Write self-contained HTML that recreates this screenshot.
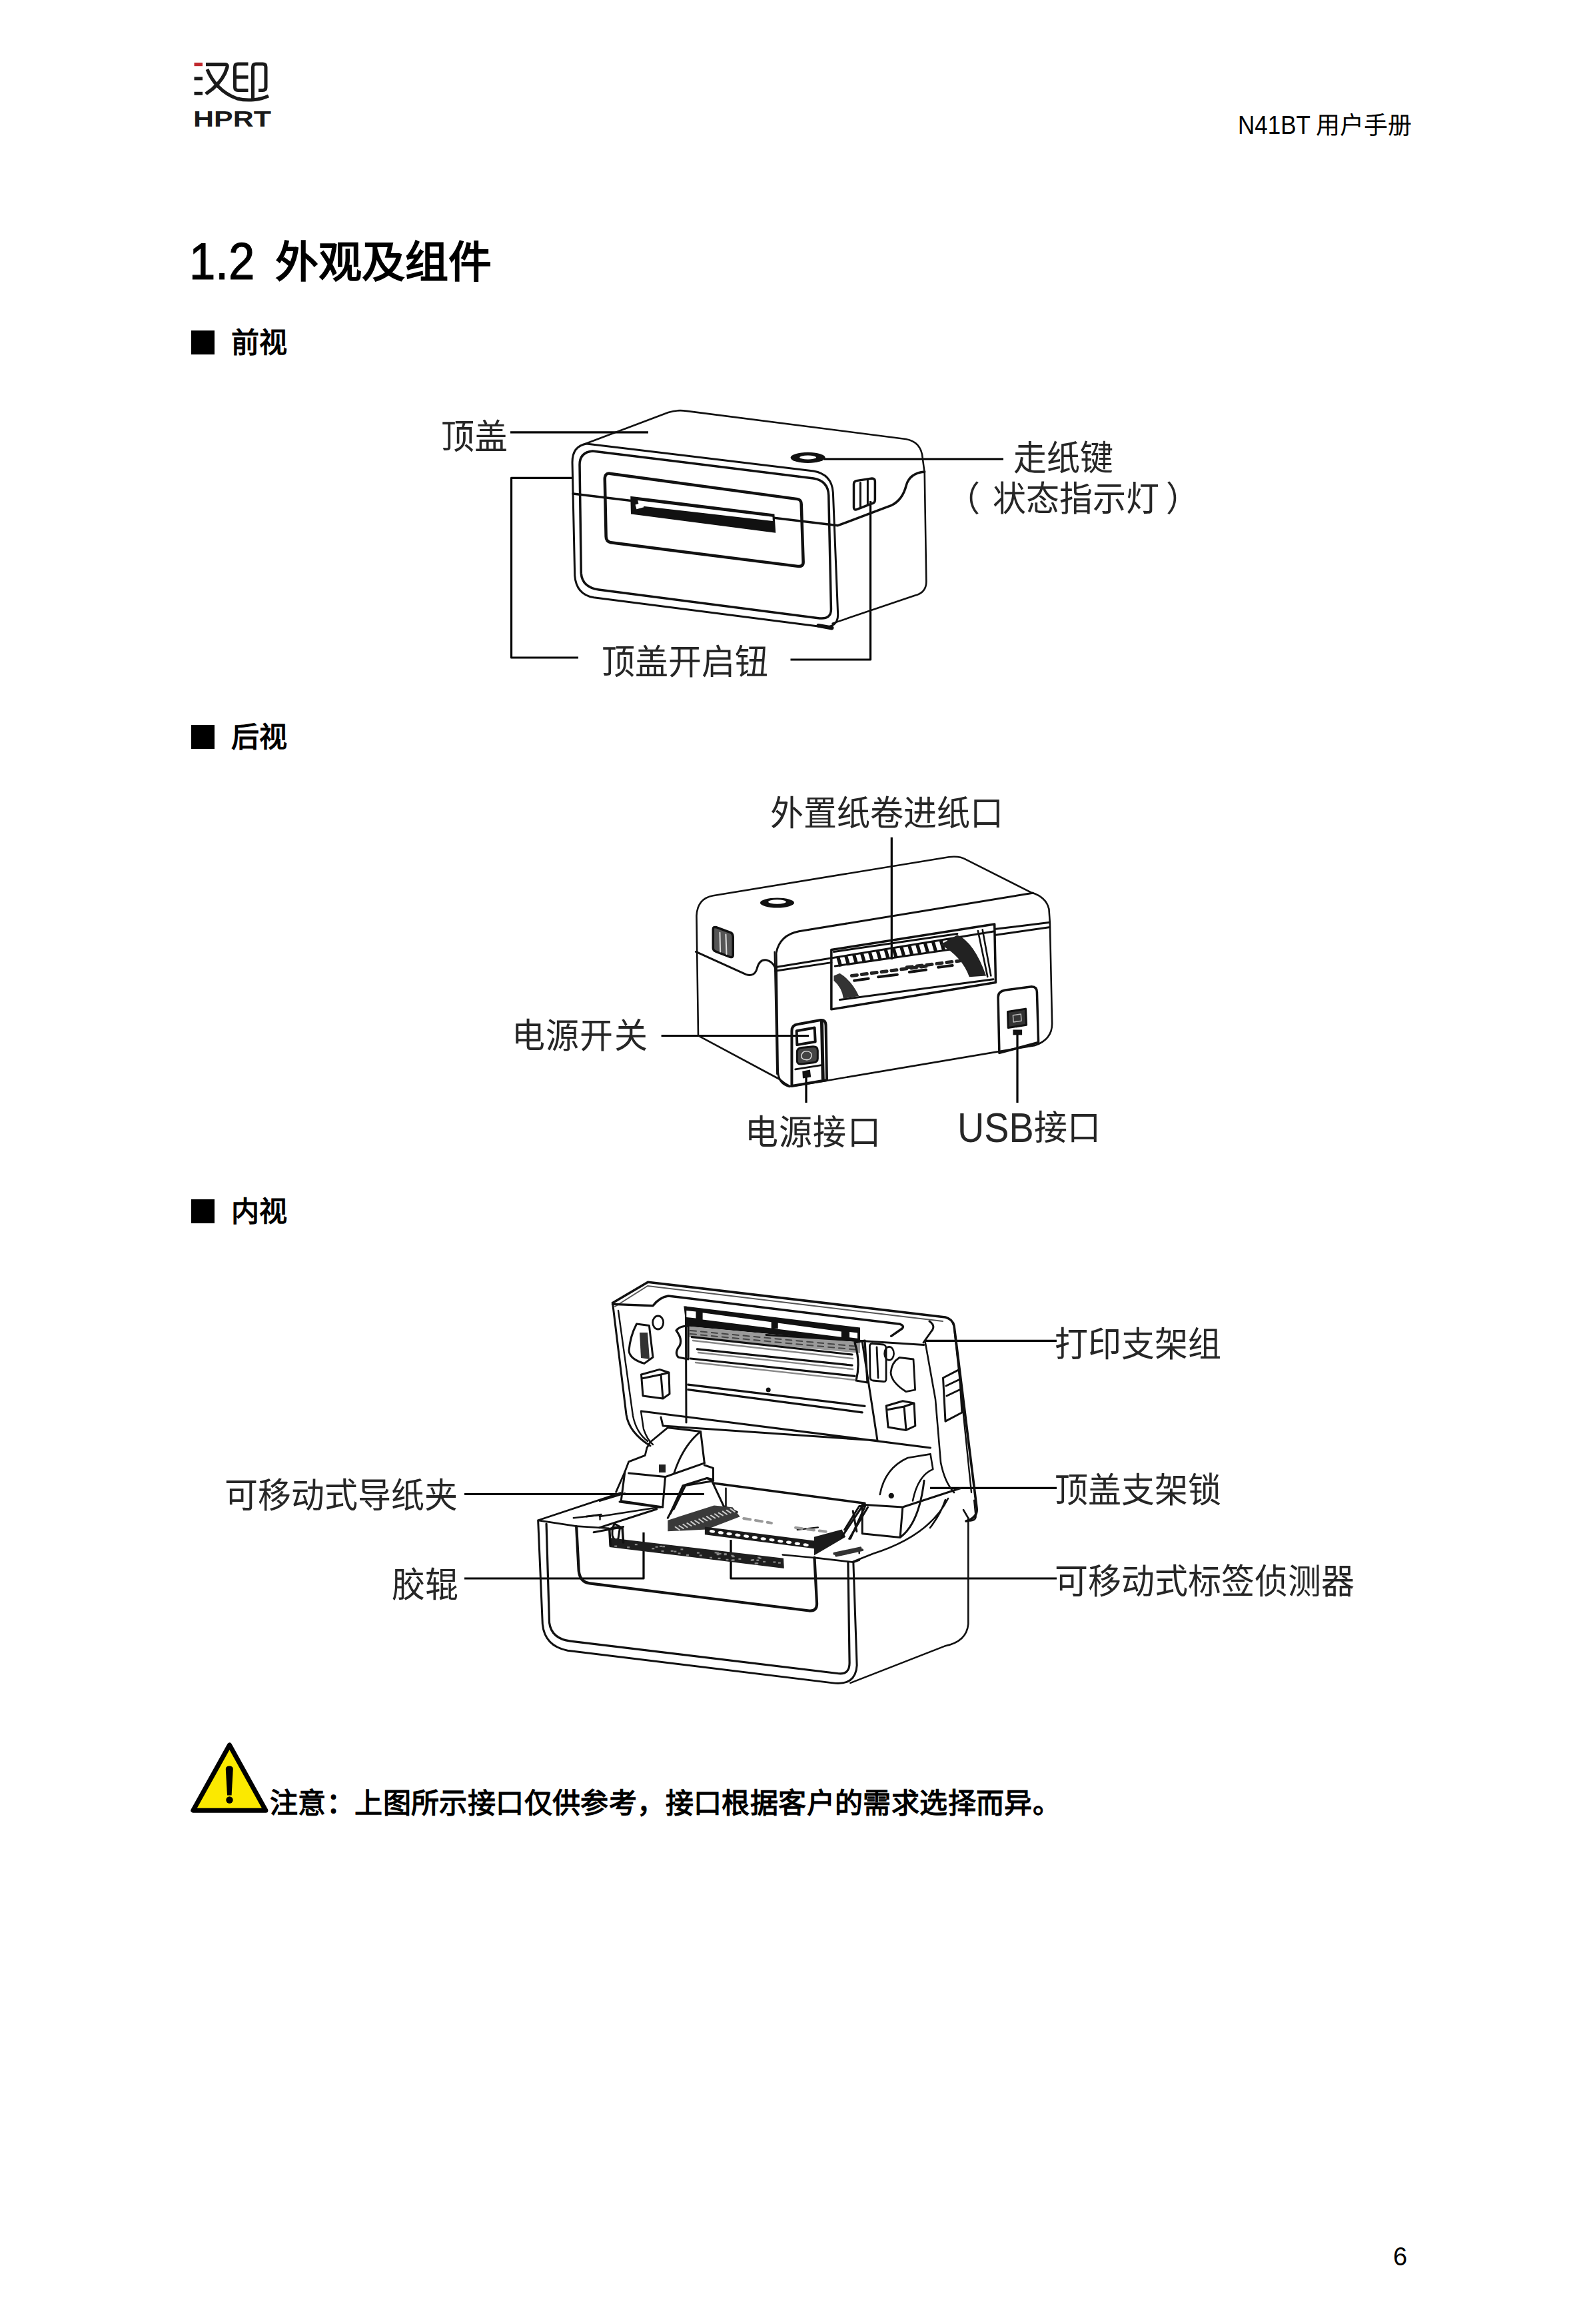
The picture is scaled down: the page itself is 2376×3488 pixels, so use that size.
<!DOCTYPE html>
<html lang="zh-CN"><head><meta charset="utf-8">
<style>
html,body{margin:0;padding:0;background:#fff;}
body{width:2376px;height:3488px;position:relative;overflow:hidden;font-family:"Liberation Sans",sans-serif;color:#000;}
.t{position:absolute;white-space:nowrap;line-height:1;}
.lb{font-size:50px;font-weight:300;color:#262626;transform:scaleY(1.04);transform-origin:0 24px;}
.sq{position:absolute;width:35px;height:36px;background:#000;left:287px;}
.sh{font-size:42px;font-weight:bold;left:347px;}
svg{position:absolute;left:0;top:0;}
</style></head><body>
<div class="t" id="hdr" style="left:1858px;top:169px;font-size:38px;"><span style="display:inline-block;transform:scaleX(0.92);transform-origin:0 0;width:113px">N41BT</span><span style="font-size:36px;margin-left:4px">用户手册</span></div>
<div class="t" id="h1a" style="left:283.5px;top:354px;font-size:77.5px;transform:scaleX(0.912);transform-origin:0 0;-webkit-text-stroke:1.2px #000">1.2</div>
<div class="t" id="h1b" style="left:413px;top:361px;font-size:65px;font-weight:bold">外观及组件</div>
<div class="sq" style="top:496px"></div><div class="t sh" id="s1" style="top:494px">前视</div>
<div class="sq" style="top:1088px"></div><div class="t sh" id="s2" style="top:1086px">后视</div>
<div class="sq" style="top:1800px"></div><div class="t sh" id="s3" style="top:1798px">内视</div>
<div class="t lb" id="l1" style="left:662px;top:631px">顶盖</div>
<div class="t lb" id="l2" style="left:903px;top:969px">顶盖开启钮</div>
<div class="t lb" id="l3" style="left:1521px;top:663px">走纸键</div>
<div class="t lb" id="l4" style="left:1440px;top:724px"><span style="position:relative;left:-19px">（</span>状态指示灯<span style="position:relative;left:10px">）</span></div>
<div class="t lb" id="l5" style="left:1156px;top:1196px">外置纸卷进纸口</div>
<div class="t lb" id="l6" style="left:768px;letter-spacing:1.2px;top:1530px">电源开关</div>
<div class="t lb" id="l7" style="left:1118px;letter-spacing:1.2px;top:1675px">电源接口</div>
<div class="t lb" id="l8" style="left:1441px;top:1668px"><span style="position:absolute;left:-4px;top:-5px;font-size:60px;font-weight:normal;transform:scaleX(0.93);transform-origin:0 0">USB</span><span style="position:absolute;left:111px;top:0">接口</span></div>
<div class="t lb" id="l9" style="left:1583px;top:1993px">打印支架组</div>
<div class="t lb" id="l10" style="left:337px;top:2220px">可移动式导纸夹</div>
<div class="t lb" id="l11" style="left:588px;top:2354px">胶辊</div>
<div class="t lb" id="l12" style="left:1583px;top:2212px">顶盖支架锁</div>
<div class="t lb" id="l13" style="left:1583px;top:2349px">可移动式标签侦测器</div>
<div class="t" id="warn" style="left:405px;top:2686px;font-size:42px;letter-spacing:0.4px;font-weight:bold">注意：上图所示接口仅供参考，接口根据客户的需求选择而异。</div>
<div class="t" id="pg" style="left:2091px;top:3368px;font-size:38px">6</div>
<svg width="2376" height="3488" viewBox="0 0 2376 3488" fill="none" stroke="#111" stroke-linecap="round" stroke-linejoin="round">
<!-- logo -->
<g id="logo">
<rect x="291.5" y="94" width="12.5" height="5.2" fill="#c0282d" stroke="none"/>
<rect x="291.5" y="115.4" width="12.5" height="5" fill="#1a1a1a" stroke="none"/>
<rect x="291.5" y="137.8" width="12.5" height="5" fill="#1a1a1a" stroke="none"/>
<path d="M309 96.6 H338 Q342 96.6 341 101 C338 112 330 124 319 133.5 C313 138 310 140 309 141" stroke="#1a1a1a" stroke-width="5.2" stroke-linecap="butt"/>
<path d="M311 104 C318 122 333 140 356 148 C372 152 390 150 403 144" stroke="#1a1a1a" stroke-width="5" stroke-linecap="butt"/>
<path d="M372.5 96 H357 Q352.5 96 352.5 100.5 V131 Q352.5 135.5 357 135.5 H372.5 M352.5 115.8 H372.5" stroke="#1a1a1a" stroke-width="5" stroke-linecap="butt"/>
<path d="M379.5 150 V100.5 Q379.5 96 384 96 H394.5 Q399 96 399 100.5 V131 Q399 135.5 394.5 135.5 H388" stroke="#1a1a1a" stroke-width="5" stroke-linecap="butt"/>
<text x="290" y="189.6" font-family="Liberation Sans" font-weight="bold" font-size="32.5" fill="#1a1a1a" stroke="none" textLength="117" lengthAdjust="spacingAndGlyphs">HPRT</text>
</g>
<!-- leader lines -->
<g stroke="#000" stroke-width="3.2" stroke-linecap="butt">
<path d="M766 648.8 H973"/>
<path d="M860 717.3 H767.5 V987 H868"/>
<path d="M1306.5 752 V990 H1186.5"/>
<path d="M1237 689 H1506"/>
<path d="M1338.3 1256.7 V1440"/>
<path d="M992.6 1554.5 H1214"/>
<path d="M1210 1610 V1655"/>
<path d="M1527 1551 V1655"/>
<path d="M1389 2012.3 H1586"/>
<path d="M697 2242.5 H1057"/>
<path d="M697 2369 H966 V2300"/>
<path d="M1396 2233.3 H1586"/>
<path d="M1586 2369 H1097 V2311"/>
</g>
<!-- front view -->
<g id="front" transform="translate(840,600) scale(0.36639)">
<g stroke-width="2.6" vector-effect="non-scaling-stroke">
<path vector-effect="non-scaling-stroke" d="M100 182 L445 52 Q480 40 520 46 L1418 161 Q1482 172 1487 240 L1495 300"/>
<path vector-effect="non-scaling-stroke" d="M1495 300 L1502 745 Q1502 790 1455 802 L1118 916"/>
<path vector-effect="non-scaling-stroke" d="M110 180 L1040 292 Q1115 305 1120 380 L1140 880 Q1140 935 1075 930 L140 810 Q68 798 62 720 L52 260 Q50 190 110 180 Z" stroke-width="3"/>
<path vector-effect="non-scaling-stroke" d="M135 210 L1040 322 Q1100 332 1102 392 L1112 858 Q1112 900 1065 895 L160 778 Q92 768 88 710 L82 270 Q80 215 135 210 Z" stroke-width="3.5"/>
<path vector-effect="non-scaling-stroke" d="M205 302 L975 407 Q990 410 990 428 L998 665 Q998 685 975 682 L210 585 Q190 580 190 560 L185 325 Q185 300 205 302 Z" stroke-width="4.5"/>
<path vector-effect="non-scaling-stroke" d="M55 385 L1140 515 L1360 432 Q1405 410 1420 350 Q1435 300 1495 295" stroke-width="3.5"/>
<path vector-effect="non-scaling-stroke" d="M1205 345 Q1205 335 1215 332 L1280 322 Q1292 322 1292 335 L1292 410 Q1292 422 1280 425 L1215 450 Q1205 452 1205 440 Z" stroke-width="3.5"/>
<path vector-effect="non-scaling-stroke" d="M1232 340 V440 M1262 330 V428" stroke-width="3"/>
<path vector-effect="non-scaling-stroke" d="M1060 925 L1115 935" stroke-width="6"/>
</g>
<path d="M290 395 L880 468 L885 545 L292 468 Z" fill="#111" stroke="none"/>
<path d="M320 412 L872 480 L873 497 L325 434 Z" fill="#fff" stroke="none"/>
<path d="M310 430 L340 420 L345 440 L315 448 Z" fill="#fff" stroke="none"/>
<ellipse cx="1017" cy="237" rx="71" ry="22" fill="#111" stroke="none"/><ellipse cx="1017" cy="236" rx="34" ry="8" fill="#fff" stroke="none"/>
</g>
<!-- rear view -->
<g id="rear" transform="translate(1030,1270) scale(0.36008)">
<g stroke-width="2.6">
<path vector-effect="non-scaling-stroke" d="M45 440 L43 290 Q46 218 112 206 L1095 45 Q1140 40 1165 55 L1440 194 Q1500 212 1512 262 L1516 320 L1525 740 Q1525 805 1455 830 L580 978 L430 1002"/>
<path vector-effect="non-scaling-stroke" d="M45 440 L50 790 L390 972 Q410 990 432 1000"/>
<path vector-effect="non-scaling-stroke" d="M1445 195 L470 355 Q390 370 375 445 L382 940 Q385 990 430 1002" stroke-width="3"/>
<path vector-effect="non-scaling-stroke" d="M368 440 L378 950" stroke-width="2"/>
<path vector-effect="non-scaling-stroke" d="M40 440 L250 535 Q285 545 295 510 Q305 470 335 475 Q358 480 370 505 L1285 355" stroke-width="3"/>
<path vector-effect="non-scaling-stroke" d="M372 520 L605 485 M1290 345 L1512 318 M1290 370 L1512 338" stroke-width="3"/>
<path vector-effect="non-scaling-stroke" d="M605 432 L1285 325 L1290 568 L605 680 Z" stroke-width="3.5"/><path vector-effect="non-scaling-stroke" d="M1216 353 L1256 544 M1235 348 L1270 540" stroke-width="2.6"/>
<path vector-effect="non-scaling-stroke" d="M615 440 L1130 365 M620 500 L1120 428 M640 640 L1280 555" stroke-width="3"/><path vector-effect="non-scaling-stroke" d="M700 560 L760 552 M800 545 L880 535 M930 525 L1000 515 M1050 505 L1110 497" stroke-width="4"/>
<path vector-effect="non-scaling-stroke" d="M1300 630 Q1300 605 1330 600 L1440 585 Q1462 585 1462 610 L1468 818 L1305 862 Z" stroke-width="3.5"/>
<path vector-effect="non-scaling-stroke" d="M112 345 Q112 335 125 338 L185 360 Q195 365 195 378 L195 455 Q195 465 183 462 L125 440 Q112 435 112 425 Z" fill="#555" stroke-width="3.5"/><path vector-effect="non-scaling-stroke" d="M140 360 L142 440 M165 368 L168 450" stroke="#ddd" stroke-width="2"/>
<path vector-effect="non-scaling-stroke" d="M440 770 Q440 745 465 742 L560 725 Q582 722 582 748 L586 975 L440 1000 Z" stroke-width="4"/>
<path vector-effect="non-scaling-stroke" d="M460 770 L535 757 L538 815 L462 828 Z" stroke-width="4"/>
<path vector-effect="non-scaling-stroke" d="M565 730 L570 970" stroke-width="5"/>
<path vector-effect="non-scaling-stroke" d="M455 930 L568 912" stroke-width="3"/>
</g>
<path d="M625 462 L639 459 L651 500 L637 503 Z M658 457 L672 454 L684 495 L670 498 Z M691 451 L705 448 L717 489 L703 492 Z M724 446 L738 443 L750 484 L736 487 Z M757 441 L771 438 L783 479 L769 482 Z M790 436 L804 432 L816 474 L802 476 Z M823 430 L837 427 L849 468 L835 471 Z M856 425 L870 422 L882 463 L868 466 Z M889 420 L903 417 L915 458 L901 461 Z M922 414 L936 411 L948 452 L934 455 Z M955 409 L969 406 L981 447 L967 450 Z M988 404 L1002 401 L1014 442 L1000 445 Z M1021 398 L1035 395 L1047 436 L1033 439 Z M1054 393 L1068 390 L1080 431 L1066 434 Z M1087 388 L1101 385 L1113 426 L1099 429 Z" fill="#111" stroke="none"/>
<path d="M1060 410 L1130 370 Q1200 400 1250 540 L1180 545 Q1150 460 1060 410 Z" fill="#222" stroke="none"/>
<path d="M615 540 L640 530 Q690 560 720 625 L655 635 Q650 590 615 560 Z" fill="#333" stroke="none"/>
<path d="M690 540 L1000 500 M920 505 L1140 478" stroke="#222" stroke-width="5" vector-effect="non-scaling-stroke" stroke-dasharray="8 7"/>
<path d="M462 858 Q462 842 480 840 L528 835 Q548 834 548 852 L548 885 Q548 900 530 902 L480 908 Q462 910 462 895 Z" fill="#444" stroke="#111" stroke-width="3" vector-effect="non-scaling-stroke"/>
<path d="M480 872 Q485 852 505 855 Q525 858 522 875 Q518 893 498 890 Q478 888 480 872 Z" fill="none" stroke="#ddd" stroke-width="1.5" vector-effect="non-scaling-stroke"/>
<path d="M484 938 L516 932 L520 962 L486 968 Z" fill="#111" stroke="none"/>
<path d="M1340 690 L1415 678 L1418 745 L1342 757 Z" fill="#333" stroke="#111" stroke-width="3" vector-effect="non-scaling-stroke"/>
<path d="M1362 705 L1395 700 L1397 728 L1364 733 Z" fill="none" stroke="#bbb" stroke-width="1.5" vector-effect="non-scaling-stroke"/>
<rect x="1362" y="765" width="38" height="22" fill="#111" stroke="none"/>
<ellipse cx="379" cy="236" rx="71" ry="21" fill="#111" stroke="none"/><ellipse cx="379" cy="232" rx="37" ry="9" fill="#fff" stroke="none"/>
</g>
<!-- interior view upper (lid) -->
<g id="intA" stroke="#111" fill="none">
<path d="M919.5 1955.5 L972.5 1924.2 L1419 1977 Q1430 1980 1432 1990 L1434 2005 L1466 2263 Q1468 2278 1450 2283" stroke-width="3.6"/>
<path d="M923 1961 L972 1930 L1415 1983" stroke-width="2" stroke="#555"/>
<path d="M919.5 1955.5 L940 2123 Q944 2150 976 2170" stroke-width="3"/>
<path d="M919.5 1957.4 L980 1959.7 Q990 1947 1003 1945 L1351 1987.3 Q1358 1990 1354 1994 L1337.6 2005.3" stroke-width="3.4"/>
<path d="M1395 1983 Q1405 1990 1398 1998 L1386 2015" stroke-width="3"/>
<path d="M928 1967 L950 2125 Q955 2150 972 2163" stroke-width="2.4"/>
<path d="M1388.8 2014.8 L1404 2100 L1412 2195 Q1418 2225 1432 2240" stroke-width="2.6"/>
<path d="M1432.4 1995.8 L1443.7 2100 L1458 2240" stroke-width="2.4"/>
<path d="M962.5 2117.9 L1396.5 2172.9 M992 2127 L995 2140 L1315 2162" stroke-width="3"/>
<path d="M1029.4 1962 L1030 2135" stroke-width="3"/>
<path d="M1294.2 2013.7 L1316.9 2161.5" stroke-width="3"/>
<path d="M1026.3 1960.2 L1291 1992.6 L1291 2014.8 L1030 1990.5 Z" fill="#111" stroke="none"/>
<path d="M1054.6 1970.3 L1262.8 1998.6 L1262.8 2006.7 L1054.6 1980.4 Z" fill="#fff" stroke="none"/>
<rect x="1157.7" y="1981" width="10" height="13" fill="#111" stroke="none"/>
<path d="M1030.3 1967 L1044.5 1968.5 L1044.5 1978.4 L1030.3 1977 Z M1275 1999 L1287 2000.4 L1287 2008.7 L1275 2007.3 Z" fill="#fff" stroke="none"/>
<path d="M1032.3 1990.5 L1291 2014.8 L1291 2031 L1032.3 2006.7 Z" fill="#9a9a9a" stroke="none"/>
<path d="M1036 1997 L1288 2021 M1036 2002 L1288 2026" stroke="#444" stroke-width="2" stroke-dasharray="9 7"/>
<path d="M1038.4 2006.7 L1279 2033 M1046.5 2024.9 L1279 2049.2 M1036.4 2039 L1283 2065.3" stroke-width="3.2"/>
<path d="M1040 2012 L1280 2039 M1048 2030 L1280 2055 M1044 2045 L1282 2071" stroke="#888" stroke-width="2.4"/>

<path d="M1150 2003.4 L1386.9 2018.5" stroke-width="3"/>




<path d="M1032.7 2078.1 L1298 2110.4 M1032.7 2085.7 L1294.2 2119.8" stroke-width="3.2"/>
<circle cx="1153.2" cy="2086" r="3.5" fill="#111" stroke="none"/>

<path d="M1015 1997 Q1020 1990 1033 1990 L1033 2040 L1018 2037 Q1012 2030 1020 2020 Q1025 2010 1015 1997 Z" stroke-width="3.2"/>
<path d="M1283 2015 L1298 2012 L1302 2075 L1285 2072 Q1292 2045 1283 2015 Z" stroke-width="3.2"/>
<ellipse cx="987.7" cy="1985" rx="8" ry="10" stroke-width="2.8"/>
<path d="M955.5 1987 L974.4 1989.6 L980 2037 L967 2046.4 Q945 2040 944 2027 Q946 2005 955.5 1987 Z" stroke-width="3"/>
<path d="M960 2000 L972 2000 L975 2040 L962 2038 Z" fill="#333" stroke="none"/>
<path d="M962.5 2063 L990 2055.4 L1004 2060 L1005 2092 L995 2099 L965 2095 Z M963 2069 L992 2063 L1004 2060 M992 2063 L995 2099" stroke-width="3"/>
<path d="M1305.4 2020 Q1306 2016 1310 2016.7 L1326 2018 Q1330 2019 1330 2024 L1330 2070 Q1330 2074 1326 2073.5 L1310 2072 Q1306 2071 1306 2067 Z M1316 2022 L1318 2068" stroke-width="2.8"/>
<ellipse cx="1334.6" cy="2031.4" rx="7" ry="10" stroke-width="2.6"/>
<path d="M1350 2037.5 L1371 2040 L1373.6 2086 L1360 2088.7 Q1338 2075 1337 2060 Q1338 2045 1350 2037.5 Z" stroke-width="2.8"/>
<path d="M1330.2 2110 L1355 2102.8 L1372 2106 L1373.8 2140 L1360 2146.4 L1333 2142 Z M1331 2116 L1357 2111 L1372 2106 M1357 2111 L1360 2146" stroke-width="3"/>
<path d="M1415.5 2068 L1440 2055.4 L1443.9 2120 L1419 2133.1 Z M1420 2080 L1441 2070 M1421 2095 L1442 2085" stroke-width="3"/>
<path d="M962 2118 L966 2145 Q972 2162 980 2168" stroke-width="2.4"/>
</g>
<!-- interior guides / paper -->
<g id="intG" transform="translate(900,1900) scale(0.37903)">
<g stroke-width="2.6">
<path vector-effect="non-scaling-stroke" d="M450 860 L1050 940" stroke-width="3.5"/>




<path vector-effect="non-scaling-stroke" d="M1110 905 Q1130 800 1220 760 L1310 745 L1320 805 Q1260 830 1240 930" stroke-width="2.6"/>
<path vector-effect="non-scaling-stroke" d="M1040 945 L1200 955 L1430 880 M1040 945 L1040 1060 L1190 1075 L1200 955 M1190 1075 Q1265 1020 1285 850" stroke-width="3"/>

<circle cx="1155" cy="910" r="11" fill="#111" stroke="none"/>
</g>
</g>
<!-- left paper guide -->
<g id="lguide" stroke="#111" fill="none" stroke-width="3">
<path d="M1002.3 2142.7 L1051.6 2148.4 L1057.3 2195.8"/>
<path d="M1051.6 2148.4 Q1025 2170 1011.8 2211" stroke-width="2.8"/>
<path d="M1002.3 2142.7 L975.8 2164.5 L971 2173 L968.2 2184.4 L943.6 2193.9 L937.9 2209 L924.6 2239.4" stroke-width="2.8"/>
<path d="M943.6 2211 L998.5 2216.6 L1057.3 2195.8"/>
<rect x="989" y="2198" width="10" height="12" fill="#222" stroke="none"/>
<path d="M998.5 2216.6 L994.8 2260.2 M937.9 2209 L932.2 2252.7 L994.8 2262"/>
<path d="M1057.3 2199 L1070.5 2203.4 L1070.5 2220.4 L1061 2218.5"/>
<path d="M1025.1 2229.9 L1061.1 2218.5 L1070.5 2222.3 M1025.1 2229.9 L1006.1 2271.6" stroke-width="3.4"/>
<path d="M1089.5 2233.7 L1089.5 2260" stroke-width="2.6"/>
<path d="M900 2252.7 L937.9 2241.3 M900 2276 L990 2262" stroke-width="2.6"/>
</g>
<path d="M1280 2344 Q1300 2336 1310 2332 Q1395 2305 1423 2249 M1396 2293 Q1412 2272 1419 2251 M1453 2278 L1446 2266" stroke="#111" fill="none" stroke-width="2.6"/>
<!-- interior lower base -->
<g id="intB" transform="translate(790,2150) scale(0.4422)">
<g stroke-width="2.6">
<path vector-effect="non-scaling-stroke" d="M40 300 L55 650 Q62 725 140 740 L1040 850 Q1118 860 1122 790 L1110 440" stroke-width="3"/>
<path vector-effect="non-scaling-stroke" d="M68 310 L78 645 Q85 700 150 708 L1060 818 Q1098 822 1097 780 L1092 440" stroke-width="3.2"/>
<path vector-effect="non-scaling-stroke" d="M40 298 L170 318 M978 425 L1110 440 M40 298 L320 205 M1110 440 L1130 433" stroke-width="2.8"/>
<path vector-effect="non-scaling-stroke" d="M170 320 L178 470 Q182 508 215 512 L960 605 Q988 607 986 578 L978 425" stroke-width="4.2"/>
<path vector-effect="non-scaling-stroke" d="M1500 290 L1500 650 Q1495 710 1420 725 L1100 850" stroke-width="2.6"/>
<path vector-effect="non-scaling-stroke" d="M1520 230 L1525 280 Q1530 300 1500 300" stroke-width="2.4"/>
<path vector-effect="non-scaling-stroke" d="M170 318 L280 325 M870 415 L978 425" stroke-width="2.6"/>
<path vector-effect="non-scaling-stroke" d="M160 290 L250 280 L250 295 M1050 410 L1130 398 L1130 410 M920 330 L990 322" stroke-width="2.4"/>
<path vector-effect="non-scaling-stroke" d="M300 310 Q290 320 292 350 Q300 372 312 360 L318 320 Z" stroke-width="3"/>
<path vector-effect="non-scaling-stroke" d="M480 290 L540 180 L630 165 L670 250 L715 270 M540 180 L500 260" stroke-width="3"/>
<path vector-effect="non-scaling-stroke" d="M1080 330 L1130 250 L1150 250 L1100 360" stroke-width="3"/>
</g>

</g>
<!-- roller & sensor -->
<g id="intC" transform="translate(880,2240) scale(0.27793)">
<path d="M125 245 L1065 355 L1068 410 L125 295 Z" fill="#1e1e1e" stroke="none"/>
<rect x="354" y="299" width="14" height="8" fill="#888" stroke="none"/><rect x="473" y="315" width="14" height="8" fill="#888" stroke="none"/><rect x="703" y="323" width="14" height="8" fill="#888" stroke="none"/><rect x="152" y="286" width="14" height="8" fill="#888" stroke="none"/><rect x="373" y="290" width="14" height="8" fill="#888" stroke="none"/><rect x="1036" y="376" width="14" height="8" fill="#888" stroke="none"/><rect x="893" y="360" width="14" height="8" fill="#888" stroke="none"/><rect x="715" y="327" width="14" height="8" fill="#888" stroke="none"/><rect x="711" y="352" width="14" height="8" fill="#888" stroke="none"/><rect x="611" y="336" width="14" height="8" fill="#888" stroke="none"/><rect x="744" y="328" width="14" height="8" fill="#888" stroke="none"/><rect x="822" y="355" width="14" height="8" fill="#888" stroke="none"/><rect x="411" y="288" width="14" height="8" fill="#888" stroke="none"/><rect x="919" y="362" width="14" height="8" fill="#888" stroke="none"/><rect x="787" y="361" width="14" height="8" fill="#888" stroke="none"/><rect x="783" y="362" width="14" height="8" fill="#888" stroke="none"/><rect x="495" y="325" width="14" height="8" fill="#888" stroke="none"/><rect x="540" y="334" width="14" height="8" fill="#888" stroke="none"/><rect x="931" y="351" width="14" height="8" fill="#888" stroke="none"/><rect x="262" y="277" width="14" height="8" fill="#888" stroke="none"/><rect x="1009" y="372" width="14" height="8" fill="#888" stroke="none"/><rect x="704" y="331" width="14" height="8" fill="#888" stroke="none"/><rect x="597" y="322" width="14" height="8" fill="#888" stroke="none"/><rect x="456" y="312" width="14" height="8" fill="#888" stroke="none"/><rect x="666" y="348" width="14" height="8" fill="#888" stroke="none"/><rect x="754" y="359" width="14" height="8" fill="#888" stroke="none"/><rect x="911" y="380" width="14" height="8" fill="#888" stroke="none"/><rect x="744" y="331" width="14" height="8" fill="#888" stroke="none"/><rect x="915" y="379" width="14" height="8" fill="#888" stroke="none"/><rect x="954" y="370" width="14" height="8" fill="#888" stroke="none"/><rect x="782" y="337" width="14" height="8" fill="#888" stroke="none"/><rect x="888" y="362" width="14" height="8" fill="#888" stroke="none"/><rect x="396" y="287" width="14" height="8" fill="#888" stroke="none"/><rect x="909" y="379" width="14" height="8" fill="#888" stroke="none"/><rect x="220" y="292" width="14" height="8" fill="#888" stroke="none"/><rect x="509" y="303" width="14" height="8" fill="#888" stroke="none"/><rect x="405" y="313" width="14" height="8" fill="#888" stroke="none"/><rect x="925" y="348" width="14" height="8" fill="#888" stroke="none"/><rect x="693" y="321" width="14" height="8" fill="#888" stroke="none"/><rect x="787" y="342" width="14" height="8" fill="#888" stroke="none"/>
<path d="M440 150 L690 70 L790 80 L830 130 L650 200 L440 210 Z" fill="#3a3a3a" stroke="none"/><path d="M481 186 L503 202 M502 180 L524 194 M523 172 L545 188 M545 166 L567 180 M566 158 L588 174 M587 152 L609 166 M609 144 L631 160 M630 138 L652 152 M651 130 L673 146 M673 124 L695 138 M694 116 L716 132 M715 110 L737 124 M737 102 L759 118 M758 96 L780 110 M779 88 L801 104" stroke="#ccc" stroke-width="2" vector-effect="non-scaling-stroke"/><path d="M640 185 L1240 262 L1245 305 L640 228 Z" fill="#1a1a1a" stroke="none"/>
<path d="M1230 240 L1380 200 L1400 240 L1230 340 Z" fill="#1a1a1a" stroke="none"/>
<ellipse cx="680" cy="210" rx="15" ry="8" transform="rotate(8 680 210)" fill="#fff" stroke="none"/><ellipse cx="726" cy="217" rx="15" ry="8" transform="rotate(8 726 217)" fill="#fff" stroke="none"/><ellipse cx="772" cy="223" rx="15" ry="8" transform="rotate(8 772 223)" fill="#fff" stroke="none"/><ellipse cx="818" cy="230" rx="15" ry="8" transform="rotate(8 818 230)" fill="#fff" stroke="none"/><ellipse cx="864" cy="236" rx="15" ry="8" transform="rotate(8 864 236)" fill="#fff" stroke="none"/><ellipse cx="910" cy="243" rx="15" ry="8" transform="rotate(8 910 243)" fill="#fff" stroke="none"/><ellipse cx="956" cy="250" rx="15" ry="8" transform="rotate(8 956 250)" fill="#fff" stroke="none"/><ellipse cx="1002" cy="256" rx="15" ry="8" transform="rotate(8 1002 256)" fill="#fff" stroke="none"/><ellipse cx="1048" cy="263" rx="15" ry="8" transform="rotate(8 1048 263)" fill="#fff" stroke="none"/><ellipse cx="1094" cy="269" rx="15" ry="8" transform="rotate(8 1094 269)" fill="#fff" stroke="none"/><ellipse cx="1140" cy="276" rx="15" ry="8" transform="rotate(8 1140 276)" fill="#fff" stroke="none"/><ellipse cx="1186" cy="283" rx="15" ry="8" transform="rotate(8 1186 283)" fill="#fff" stroke="none"/>
<path d="M850 140 L1000 165 M1130 190 L1320 215" stroke="#999" stroke-width="4" stroke-dasharray="10 8" vector-effect="non-scaling-stroke"/>
<path vector-effect="non-scaling-stroke" d="M125 200 L130 285 M195 195 L200 270 M125 200 Q150 180 195 195" stroke="#111" stroke-width="3.5" fill="none"/>
<path vector-effect="non-scaling-stroke" d="M1380 240 L1500 60 M1420 250 L1520 80 M1440 100 L1460 210" stroke="#111" stroke-width="3" fill="none"/>
<path vector-effect="non-scaling-stroke" d="M1340 330 L1480 300 M1350 340 L1490 310" stroke="#333" stroke-width="4" fill="none"/>
<path vector-effect="non-scaling-stroke" d="M0 130 L80 120 M40 215 L200 185 M70 190 L380 90 M180 50 L400 80" stroke="#111" stroke-width="3" fill="none"/>
</g>
<!-- warning triangle -->
<path d="M344.5 2619 L289.8 2717.3 H398.9 Z" fill="#fbe900" stroke="#000" stroke-width="7" stroke-linejoin="round"/>
<path d="M338.8 2655 Q338.8 2650.5 344.3 2650.5 Q349.8 2650.5 349.8 2655 L347.6 2694.5 H341 Z" fill="#000" stroke="none"/>
<circle cx="344.5" cy="2701.5" r="5.2" fill="#000" stroke="none"/>
</svg>
</body></html>
